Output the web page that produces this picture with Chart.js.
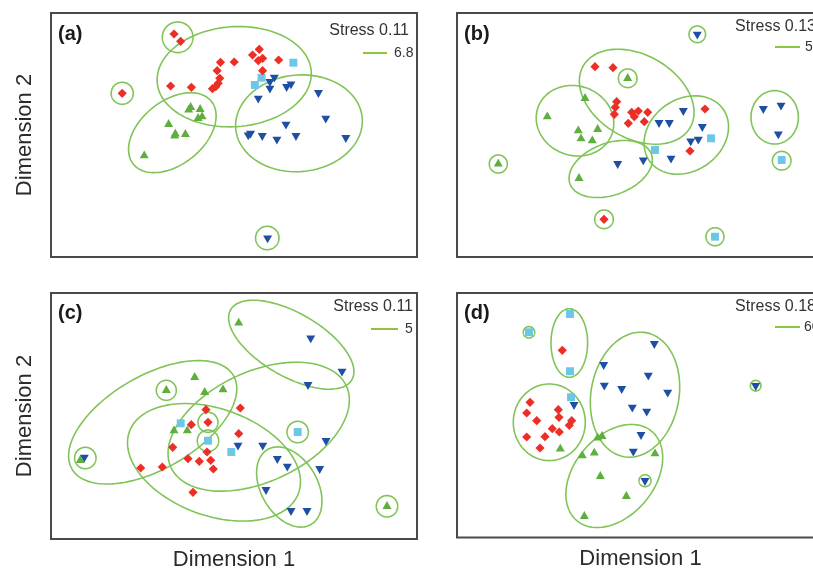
<!DOCTYPE html>
<html><head><meta charset="utf-8">
<script src="https://cdn.jsdelivr.net/npm/chart.js@4.4.1/dist/chart.umd.min.js"></script>
<style>
html,body{margin:0;padding:0;background:#fff;width:813px;height:571px;overflow:hidden;position:relative}
canvas{position:absolute}
</style></head><body>
<canvas id="ca" width="430" height="270" style="left:0px;top:0px"></canvas>
<canvas id="cb" width="400" height="270" style="left:440px;top:0px"></canvas>
<canvas id="cc" width="430" height="300" style="left:0px;top:280px"></canvas>
<canvas id="cd" width="400" height="300" style="left:440px;top:280px"></canvas>
<script>
// ---------- Panel (a) ----------
const aRed = [[122.7,223],[129.3,215.7],[71,163.7],[119.3,171],[140,169.7],[169,194.7],[182.7,195],[165.7,186.3],[168.3,178.7],[166.7,173.7],[164.3,170.3],[161,168.3],[201,202],[207.7,207.7],[211,198.7],[206.7,196.3],[227,197],[211,186.3]];
const aBlue = [[222.7,179.7],[218.3,175.3],[218.3,168.7],[235,170.3],[239.3,173],[206.7,158.7],[266.7,164.3],[274,138.7],[234.3,132.7],[199,123.7],[196.7,122],[210.7,121.3],[225.3,117.7],[244.3,121.3],[294,119.3],[216,19]];
const aGreen = [[139.3,149.7],[137.3,147],[148.7,147.7],[150.7,140.3],[146.7,138.7],[117.3,132.7],[124,123],[123.3,121],[134,122.7],[93,101.3]];
const aCyan = [[241.7,194.3],[210,179.3],[203.3,172]];
// ellipses: [centerX, centerY, radiusX, radiusY, angleDeg]
const aEllipses = [[182.7,180.3,77,50,4],[121,124.3,50,31.7,39],[247.3,133.7,63.3,48.3,5],[126.3,219.7,15.3,15.3,0],[71,163.7,11,11,0],[215.7,19,11.7,11.7,0]];

// ---------- Panel (b) ----------
const bRed = [[138,190.3],[156,189.3],[159.7,155.3],[158.3,149.7],[157.3,142.7],[174.7,144.7],[181.3,146],[177.3,140.3],[171.3,133.7],[190.7,144.7],[187.3,135.3],[248,148],[233,106],[147,37.7]];
const bBlue = [[240.3,222.7],[226.3,146.3],[202,134.3],[212.3,134.3],[245.3,130.3],[241.3,117.7],[233.7,116],[214,98.7],[186.3,97],[160.7,93.3],[306.3,148.3],[324,151.7],[321.3,123]];
const bGreen = [[170.7,178.7],[128,158.7],[90.3,140.3],[121.3,126.3],[140.7,127.7],[124,118.3],[135.3,116.3],[41.3,93],[122,78.7]];
const bCyan = [[254,118.7],[198,107],[324.7,97],[258,20.3]];
const bEllipses = [[179.7,160.3,61.7,41.7,-30],[118,136.3,39.3,34.7,-20],[153.7,88,43.3,26,20],[229.3,122,45,36,35],[317.7,139.7,23.7,26.7,0],[240.3,222.7,8.3,8.3,0],[170.7,178.7,9.3,9.3,0],[41.3,93,9,9,0],[147,37.7,9.3,9.3,0],[324.7,96.3,9.3,9.3,0],[258,20.3,9,9,0]];

// ---------- Panel (c) ----------
const cRed = [[155,129.3],[189.3,131],[140.3,114.3],[157,116.7],[187.7,105.3],[121.7,91.7],[156,87],[137,80.3],[148.3,77.7],[159.7,78.7],[162.3,70],[89.7,71],[111.3,72],[142,46.7]];
const cBlue = [[259.7,201],[291,167.7],[257,154.3],[187,93.7],[211.7,93.7],[275,98.3],[226.3,80.3],[236.3,72.7],[268.7,70.3],[215,49.3],[240,28.3],[256,28.3],[33.3,81.7]];
const cGreen = [[187.7,216],[143.7,161.7],[115.3,148.7],[153.7,146.7],[172,149.3],[123,108.3],[136.3,108.3],[29.3,78.7],[336,32.7]];
const cCyan = [[129.7,115.7],[157,98.3],[180.3,87],[246.7,107]];
const cEllipses = [[240.3,194.3,70,31.7,-30],[101.7,116.7,93.3,46.7,30],[207.7,112.3,96.7,55,25],[163,76.7,90,53.3,-20],[238.3,52,43.3,28.3,-60],[115.3,148.7,10,10,0],[157,116.7,10,10,0],[157,98.3,10.7,10.7,0],[246.7,107,10.7,10.7,0],[34.3,81,10.7,10.7,0],[336,32.7,10.7,10.7,0]];

// ---------- Panel (d) ----------
const dRed = [[105.3,187.2],[73,135.2],[69.7,124.5],[79.7,116.8],[101.3,127.8],[102,120.2],[114.7,116.8],[112.3,112.2],[95.3,108.8],[102.3,105.5],[88,100.8],[69.7,100.5],[83,89.5]];
const dBlue = [[197.3,193.8],[146.7,172.8],[191.3,162.2],[147.3,152.2],[164.7,148.8],[210.7,145.2],[175.3,130.2],[189.7,126.2],[117,132.8],[184,102.8],[176.3,86.2],[188,56.8],[298.7,151.8]];
const dGreen = [[140.7,99.5],[145,101.2],[103.3,88.5],[125.3,81.8],[137.3,84.5],[198,83.8],[143.3,61.2],[169.3,41.2],[127.3,21.2]];
const dCyan = [[113,223.5],[72,205.2],[113,166.2],[114,140.2]];
const dEllipses = [[112.3,194.5,18.3,34.3,0],[92.3,115.2,36,38.3,0],[178,142.8,44,63,-10],[157.3,61.5,58.3,40,50],[72,205.2,5.7,5.7,0],[188,56.8,6,6,0],[298.7,151.8,5.3,5.3,0]];

// ---------- Labels ----------
const panelLabels = ['(a)','(b)','(c)','(d)'];
const stressLabels = ['Stress 0.11','Stress 0.13','Stress 0.11','Stress 0.18'];
const scaleLabels = ['6.8','5','5','60'];
const xTitle = 'Dimension 1';
const yTitle = 'Dimension 2';

const FONT = "'Liberation Sans', Arial, Helvetica, sans-serif";
Chart.defaults.font.family = FONT;
Chart.defaults.color = '#2b2b2b';

const COL = {red:'#ec2f26', blue:'#1f4fa3', green:'#5fae3e', cyan:'#6cc7e6', ell:'#80c457', frame:'#4a4a4a'};

const ellipsePlugin = {
  id: 'ellipses',
  beforeDatasetsDraw(chart, args, opts) {
    const {ctx, chartArea} = chart;
    const xs = chart.scales.x, ys = chart.scales.y;
    ctx.save();
    ctx.beginPath();
    ctx.rect(chartArea.left, chartArea.top, chartArea.right - chartArea.left, chartArea.bottom - chartArea.top);
    ctx.clip();
    ctx.strokeStyle = COL.ell;
    ctx.lineWidth = 1.6;
    for (const [cx, cy, rx, ry, ang] of (opts.list || [])) {
      const th = ang * Math.PI / 180;
      ctx.beginPath();
      const N = 120;
      for (let i = 0; i <= N; i++) {
        const t = i / N * Math.PI * 2;
        const dx = rx * Math.cos(t), dy = ry * Math.sin(t);
        const vx = cx + dx * Math.cos(th) - dy * Math.sin(th);
        const vy = cy + dx * Math.sin(th) + dy * Math.cos(th);
        const px = xs.getPixelForValue(vx), py = ys.getPixelForValue(vy);
        if (i === 0) ctx.moveTo(px, py); else ctx.lineTo(px, py);
      }
      ctx.closePath();
      ctx.stroke();
    }
    ctx.restore();
  }
};

const panelPlugin = {
  id: 'panelDeco',
  afterDraw(chart, args, o) {
    const {ctx, chartArea: {left, top, right, bottom}} = chart;
    ctx.save();
    ctx.strokeStyle = COL.frame;
    ctx.lineWidth = 2;
    ctx.strokeRect(left, top, right - left, bottom - top);
    ctx.fillStyle = '#1a1a1a';
    ctx.textBaseline = 'alphabetic';
    ctx.textAlign = 'left';
    ctx.font = 'bold 20px ' + FONT;
    ctx.fillText(o.label, left + 7, top + o.lb);
    ctx.fillStyle = '#333';
    ctx.font = '16px ' + FONT;
    ctx.textAlign = 'right';
    ctx.fillText(o.stress, right - o.sR, top + o.sB);
    ctx.strokeStyle = '#8cc63f';
    ctx.lineWidth = 2;
    ctx.beginPath();
    ctx.moveTo(right - o.l0, top + o.ly);
    ctx.lineTo(right - o.l1, top + o.ly);
    ctx.stroke();
    ctx.font = '14px ' + FONT;
    ctx.textAlign = 'left';
    ctx.textBaseline = 'middle';
    ctx.fillText(o.leg, right - o.tx, top + o.ly);
    ctx.restore();
  }
};

function toPts(arr) { return arr.map(p => ({x: p[0], y: p[1]})); }

function makeChart(id, red, blue, green, cyan, ells, xMax, yMax, pad, showX, showY, deco) {
  const titleFont = {size: 22, family: FONT};
  new Chart(document.getElementById(id), {
    type: 'scatter',
    data: {
      datasets: [
        {data: toPts(green), pointStyle: 'triangle', pointRadius: 5.2, backgroundColor: COL.green, borderWidth: 0},
        {data: toPts(blue), pointStyle: 'triangle', rotation: 180, pointRadius: 5.2, backgroundColor: COL.blue, borderWidth: 0},
        {data: toPts(red), pointStyle: 'rectRot', pointRadius: 4.6, backgroundColor: COL.red, borderWidth: 0},
        {data: toPts(cyan), pointStyle: 'rect', pointRadius: 5.6, backgroundColor: COL.cyan, borderWidth: 0}
      ]
    },
    options: {
      responsive: false, animation: false, events: [],
      layout: {padding: pad},
      scales: {
        x: {type: 'linear', min: 0, max: xMax, display: showX,
            ticks: {display: false}, grid: {display: false, drawTicks: false}, border: {display: false},
            title: {display: showX, text: xTitle, font: titleFont, color: '#2b2b2b', padding: {top: 7.8, bottom: 6.8}}},
        y: {type: 'linear', min: 0, max: yMax, display: showY,
            ticks: {display: false}, grid: {display: false, drawTicks: false}, border: {display: false},
            title: {display: showY, text: yTitle, font: titleFont, color: '#2b2b2b', padding: {top: 11.8, bottom: 12.8}}}
      },
      plugins: {legend: {display: false}, tooltip: {enabled: false},
        ellipses: {list: ells}, panelDeco: deco}
    },
    plugins: [ellipsePlugin, panelPlugin]
  });
}

makeChart('ca', aRed, aBlue, aGreen, aCyan, aEllipses, 365, 244,
  {left: 0, right: 13, top: 13, bottom: 13}, false, true,
  {label: panelLabels[0], stress: stressLabels[0], leg: scaleLabels[0], lb: 27, sR: 8, sB: 22, l0: 54, l1: 30, ly: 40, tx: 23});
makeChart('cb', bRed, bBlue, bGreen, bCyan, bEllipses, 367, 244,
  {left: 17, right: 16, top: 13, bottom: 13}, false, false,
  {label: panelLabels[1], stress: stressLabels[1], leg: scaleLabels[1], lb: 27, sR: 8, sB: 18, l0: 49, l1: 24, ly: 34, tx: 19});
makeChart('cc', cRed, cBlue, cGreen, cCyan, cEllipses, 366, 246,
  {left: 0, right: 13, top: 13, bottom: 0}, true, true,
  {label: panelLabels[2], stress: stressLabels[2], leg: scaleLabels[2], lb: 26, sR: 4, sB: 18, l0: 46, l1: 19, ly: 36, tx: 12});
makeChart('cd', dRed, dBlue, dGreen, dCyan, dEllipses, 367, 244.5,
  {left: 17, right: 16, top: 13, bottom: 1.5}, true, false,
  {label: panelLabels[3], stress: stressLabels[3], leg: scaleLabels[3], lb: 26, sR: 8, sB: 18, l0: 49, l1: 24, ly: 34, tx: 20});
</script>
</body></html>
